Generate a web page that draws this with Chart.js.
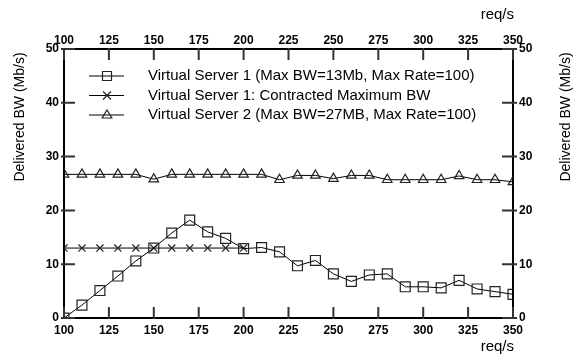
<!DOCTYPE html>
<html>
<head>
<meta charset="utf-8">
<script src="https://cdn.jsdelivr.net/npm/chart.js@4.4.1/dist/chart.umd.min.js"></script>
<style>
  html, body { margin: 0; padding: 0; background: #fff; }
  #wrap { width: 577px; height: 356px; }
</style>
</head>
<body>
<div id="wrap"><canvas id="bwChart" width="577" height="356"></canvas></div>
<script>
// request rates (req/s) sampled every 10
let rate_labels = [100, 110, 120, 130, 140, 150, 160, 170, 180, 190, 200, 210, 220,
                   230, 240, 250, 260, 270, 280, 290, 300, 310, 320, 330, 340, 350];

// delivered bandwidth, Mb/s
let vs1_bw = [0, 2.4, 5.1, 7.8, 10.6, 13.0, 15.8, 18.2, 16.0, 14.8, 12.9, 13.1, 12.3,
              9.7, 10.7, 8.2, 6.8, 8.0, 8.2, 5.8, 5.8, 5.6, 7.0, 5.4, 4.9, 4.4];
let vs1_contract_rates = [100, 110, 120, 130, 140, 150, 160, 170, 180, 190, 200];
let vs1_contract_bw = [13, 13, 13, 13, 13, 13, 13, 13, 13, 13, 13];
let vs2_bw = [26.7, 26.7, 26.7, 26.7, 26.7, 25.8, 26.7, 26.7, 26.7, 26.7, 26.7, 26.7, 25.7,
              26.5, 26.5, 25.9, 26.5, 26.5, 25.7, 25.7, 25.7, 25.7, 26.4, 25.7, 25.7, 25.3];

let series_names = [
    'Virtual Server 1 (Max BW=13Mb, Max Rate=100)',
    'Virtual Server 1: Contracted Maximum BW',
    'Virtual Server 2 (Max BW=27MB, Max Rate=100)'
];

let x_ticks = [100, 125, 150, 175, 200, 225, 250, 275, 300, 325, 350];
let y_ticks = [0, 10, 20, 30, 40, 50];

const FONT = "'Liberation Sans', Arial, sans-serif";

function pairs(xs, ys) {
    return xs.map((x, i) => ({ x: x, y: ys[i] }));
}

// small hollow markers for the legend, same shapes as the points
function drawMarker(ctx, style, x, y) {
    ctx.beginPath();
    if (style === 'rect') {
        ctx.rect(x - 4.5, y - 4.5, 9, 9);
    } else if (style === 'crossRot') {
        ctx.moveTo(x - 4, y - 4); ctx.lineTo(x + 4, y + 4);
        ctx.moveTo(x + 4, y - 4); ctx.lineTo(x - 4, y + 4);
    } else if (style === 'triangle') {
        ctx.moveTo(x, y - 5);
        ctx.lineTo(x + 4.8, y + 3);
        ctx.lineTo(x - 4.8, y + 3);
        ctx.closePath();
    }
    ctx.stroke();
}

// tick marks crossing the frame on all four sides
function drawFrameTicks(chart) {
    const ctx = chart.ctx;
    const a = chart.chartArea;
    const xs = chart.scales.x, ys = chart.scales.y;
    ctx.save();
    ctx.strokeStyle = '#333';
    ctx.lineWidth = 2;
    x_ticks.forEach(v => {
        const px = xs.getPixelForValue(v);
        ctx.beginPath();
        ctx.moveTo(px, a.bottom + 1); ctx.lineTo(px, a.bottom - 11);
        ctx.moveTo(px, a.top - 1); ctx.lineTo(px, a.top + 11);
        ctx.stroke();
    });
    y_ticks.forEach(v => {
        const py = ys.getPixelForValue(v);
        ctx.beginPath();
        ctx.moveTo(a.left - 3, py); ctx.lineTo(a.left + 11, py);
        ctx.moveTo(a.right + 4, py); ctx.lineTo(a.right - 11, py);
        ctx.stroke();
    });
    ctx.restore();
}

// legend and axis titles
const decorations = {
    id: 'decorations',
    afterDraw(chart) {
        const ctx = chart.ctx;
        const a = chart.chartArea;
        drawFrameTicks(chart);
        ctx.save();

        ctx.font = '15px ' + FONT;
        ctx.textBaseline = 'middle';
        ctx.textAlign = 'left';
        chart.data.datasets.forEach((ds, i) => {
            const ly = 76 + i * 19.5;
            ctx.strokeStyle = '#000';
            ctx.lineWidth = 1;
            ctx.beginPath();
            ctx.moveTo(89, ly); ctx.lineTo(124, ly);
            ctx.stroke();
            ctx.strokeStyle = '#222';
            ctx.lineWidth = 1.2;
            drawMarker(ctx, ds.pointStyle, 107, ly);
            ctx.fillStyle = '#000';
            ctx.fillText(ds.label, 148, ly);
        });

        ctx.font = '14px ' + FONT;
        ctx.textAlign = 'center';
        ctx.textBaseline = 'middle';
        [20, 566].forEach(tx => {
            ctx.save();
            ctx.translate(tx, 117);
            ctx.rotate(-Math.PI / 2);
            ctx.fillText('Delivered BW (Mb/s)', 0, 0);
            ctx.restore();
        });
        ctx.font = '15px ' + FONT;
        ctx.textAlign = 'right';
        ctx.fillText('req/s', a.right + 1, 15);
        ctx.fillText('req/s', a.right + 1, 347);
        ctx.restore();
    }
};

function xAxis(pos, size) {
    return {
        type: 'linear',
        position: pos,
        min: 100,
        max: 350,
        afterBuildTicks: s => { s.ticks = x_ticks.map(v => ({ value: v })); },
        afterFit: s => { s.height = size; },
        grid: { drawOnChartArea: false, drawTicks: false },
        border: { color: '#000', width: 2 },
        ticks: {
            color: '#000',
            padding: pos === 'top' ? 1 : 5,
            maxRotation: 0,
            font: { family: FONT, size: 12, weight: 'bold' }
        }
    };
}

function yAxis(pos, size) {
    return {
        type: 'linear',
        position: pos,
        min: 0,
        max: 50,
        afterBuildTicks: s => { s.ticks = y_ticks.map(v => ({ value: v })); },
        afterFit: s => { s.width = size; },
        grid: { drawOnChartArea: false, drawTicks: false },
        border: { color: '#000', width: 2 },
        ticks: {
            color: '#000',
            padding: pos === 'left' ? 5 : 6,
            font: { family: FONT, size: 12, weight: 'bold' }
        }
    };
}

const ctx = document.getElementById('bwChart').getContext('2d');
const bwChart = new Chart(ctx, {
    type: 'line',
    data: {
        datasets: [{
            label: series_names[0],
            data: pairs(rate_labels, vs1_bw),
            borderColor: '#000',
            borderWidth: 1,
            pointStyle: 'rect',
            pointRadius: 7,
            pointBorderColor: '#222',
            pointBackgroundColor: 'rgba(0,0,0,0)',
            pointBorderWidth: 1.2,
            tension: 0
        }, {
            label: series_names[1],
            data: pairs(vs1_contract_rates, vs1_contract_bw),
            borderColor: '#000',
            borderWidth: 1,
            pointStyle: 'crossRot',
            pointRadius: 5,
            pointBorderColor: '#222',
            pointBorderWidth: 1.2,
            tension: 0
        }, {
            label: series_names[2],
            data: pairs(rate_labels, vs2_bw),
            borderColor: '#000',
            borderWidth: 1,
            pointStyle: 'triangle',
            pointRadius: 5.5,
            pointBorderColor: '#222',
            pointBackgroundColor: 'rgba(0,0,0,0)',
            pointBorderWidth: 1.2,
            tension: 0
        }]
    },
    options: {
        responsive: false,
        animation: false,
        layout: { padding: 0 },
        plugins: {
            legend: { display: false },
            tooltip: { enabled: false }
        },
        scales: {
            x: xAxis('bottom', 38),
            x2: xAxis('top', 49),
            y: yAxis('left', 64),
            y2: yAxis('right', 64)
        }
    },
    plugins: [decorations]
});
</script>
</body>
</html>
